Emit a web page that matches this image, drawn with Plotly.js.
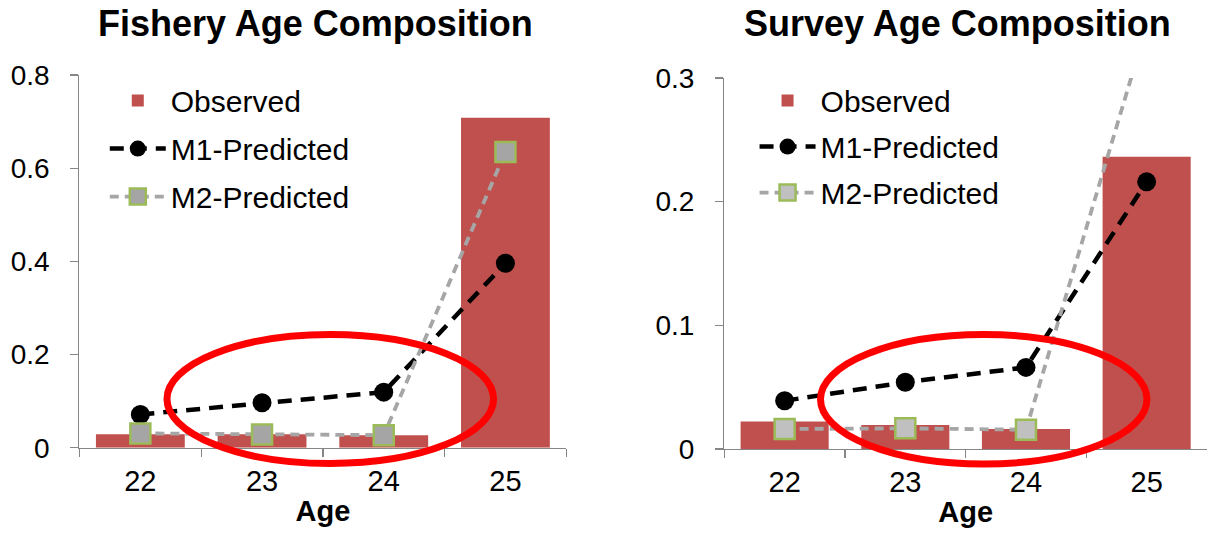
<!DOCTYPE html>
<html><head><meta charset="utf-8">
<script src="https://cdn.plot.ly/plotly-3.0.1.min.js"></script>
<style>html,body{margin:0;padding:0;background:#fff}#chart{width:1210px;height:533px}</style>
</head><body><div id="chart"></div>
<script>
const ages = ['22', '23', '24', '25'];
const fisheryObserved = [0.029, 0.029, 0.027, 0.708];
const fisheryM1 = [0.0717, 0.0966, 0.1195, 0.396];
const fisheryM2 = [0.031, 0.0288, 0.0272, 0.635];
const surveyObserved = [0.0223, 0.0194, 0.0162, 0.2364];
const surveyM1 = [0.039, 0.054, 0.066, 0.216];
const surveyM2 = [0.0162, 0.0167, 0.0156, 0.342];
const seriesNames = ['Observed', 'M1-Predicted', 'M2-Predicted'];
const panelTitles = ['Fishery Age Composition', 'Survey Age Composition'];
const xTitle = 'Age';

const FONT = 'Liberation Sans, Arial, sans-serif';
const BAR = '#C0504D';
const AXIS = '#868686';

function panel(obs, m1, m2, xa, ya, leg, m2fill) {
  return [
    {type: 'bar', x: ages, y: obs, xaxis: xa, yaxis: ya, name: seriesNames[0], legend: leg,
     legendgroup: leg + 'a', marker: {color: BAR}, width: 0.73, hoverinfo: 'y'},
    {type: 'scatter', mode: 'lines+markers', x: ages, y: m1, xaxis: xa, yaxis: ya, name: seriesNames[1], legend: leg,
     legendgroup: leg + 'b', line: {color: '#000000', width: 4.5, dash: '14px,9px'},
     marker: {symbol: 'circle', size: 19, color: '#000000'}},
    {type: 'scatter', mode: 'lines+markers', x: ages, y: m2, xaxis: xa, yaxis: ya, name: seriesNames[2], legend: leg,
     legendgroup: leg + 'c', line: {color: '#A6A6A6', width: 3.8, dash: '9px,6px'},
     marker: {symbol: 'square', size: 20, color: m2fill, line: {color: '#9BBB59', width: 2.5}}}
  ];
}

const data = [].concat(
  panel(fisheryObserved, fisheryM1, fisheryM2, 'x', 'y', 'legend', '#A5A5A5'),
  panel(surveyObserved, surveyM1, surveyM2, 'x2', 'y2', 'legend2', '#C0C0C0')
);

function xaxis(domain, anchor) {
  return {domain: domain, anchor: anchor, type: 'category', range: [-0.5, 3.5], tickson: 'boundaries',
    ticks: 'outside', ticklen: 8, tickcolor: AXIS, tickwidth: 1.3, showline: true, linecolor: AXIS, linewidth: 1.3,
    showgrid: false, zeroline: false, automargin: false, fixedrange: true, ticklabelstandoff: 7,
    tickfont: {family: FONT, size: 29, color: '#000'},
    title: {text: xTitle, font: {family: FONT, size: 29, color: '#000', weight: 'bold'}, standoff: 4}};
}
function yaxis(domain, anchor, range, vals) {
  return {domain: domain, anchor: anchor, range: range, tickvals: vals, ticktext: vals.map(v => String(v)),
    ticks: 'outside', ticklen: 8, tickcolor: AXIS, tickwidth: 1.3, showline: true, linecolor: AXIS, linewidth: 1.3,
    showgrid: false, zeroline: false, automargin: false, fixedrange: true, ticklabelstandoff: 15,
    tickfont: {family: FONT, size: 28, color: '#000'}};
}
function legend(x, y, gap) {
  return {x: x, y: y, xanchor: 'left', yanchor: 'top', bgcolor: 'rgba(0,0,0,0)', borderwidth: 0,
    font: {family: FONT, size: 30, color: '#000'}, tracegroupgap: gap, itemwidth: 56, traceorder: 'grouped'};
}

const layout = {
  width: 1210, height: 533, margin: {l: 0, r: 0, t: 0, b: 0},
  paper_bgcolor: '#fff', plot_bgcolor: 'rgba(0,0,0,0)', showlegend: true,
  xaxis: xaxis([0.0657, 0.4680], 'y'),
  yaxis: yaxis([0.1598, 0.8593], 'x', [0, 0.8], [0, 0.2, 0.4, 0.6, 0.8]),
  xaxis2: xaxis([0.5986, 0.9975], 'y2'),
  yaxis2: yaxis([0.1576, 0.8537], 'x2', [0, 0.3], [0, 0.1, 0.2, 0.3]),
  legend: legend(0.0866, 0.860, 6),
  legend2: legend(0.6236, 0.860, 4),
  annotations: [
    {text: panelTitles[0], xref: 'paper', yref: 'paper', x: 0.2607, y: 0.955, xanchor: 'center', yanchor: 'middle',
     showarrow: false, font: {family: FONT, size: 36, color: '#000', weight: 'bold'}},
    {text: panelTitles[1], xref: 'paper', yref: 'paper', x: 0.7917, y: 0.955, xanchor: 'center', yanchor: 'middle',
     showarrow: false, font: {family: FONT, size: 36, color: '#000', weight: 'bold'}}
  ],
  shapes: [
    {type: 'circle', xref: 'paper', yref: 'paper', x0: 0.1380, x1: 0.4079, y0: 0.1304, y1: 0.3724,
     line: {color: '#FF0000', width: 7}, fillcolor: 'rgba(0,0,0,0)'},
    {type: 'circle', xref: 'paper', yref: 'paper', x0: 0.6781, x1: 0.9479, y0: 0.1295, y1: 0.3724,
     line: {color: '#FF0000', width: 7}, fillcolor: 'rgba(0,0,0,0)'}
  ]
};

Plotly.newPlot('chart', data, layout, {displayModeBar: false, staticPlot: true});
</script></body></html>
